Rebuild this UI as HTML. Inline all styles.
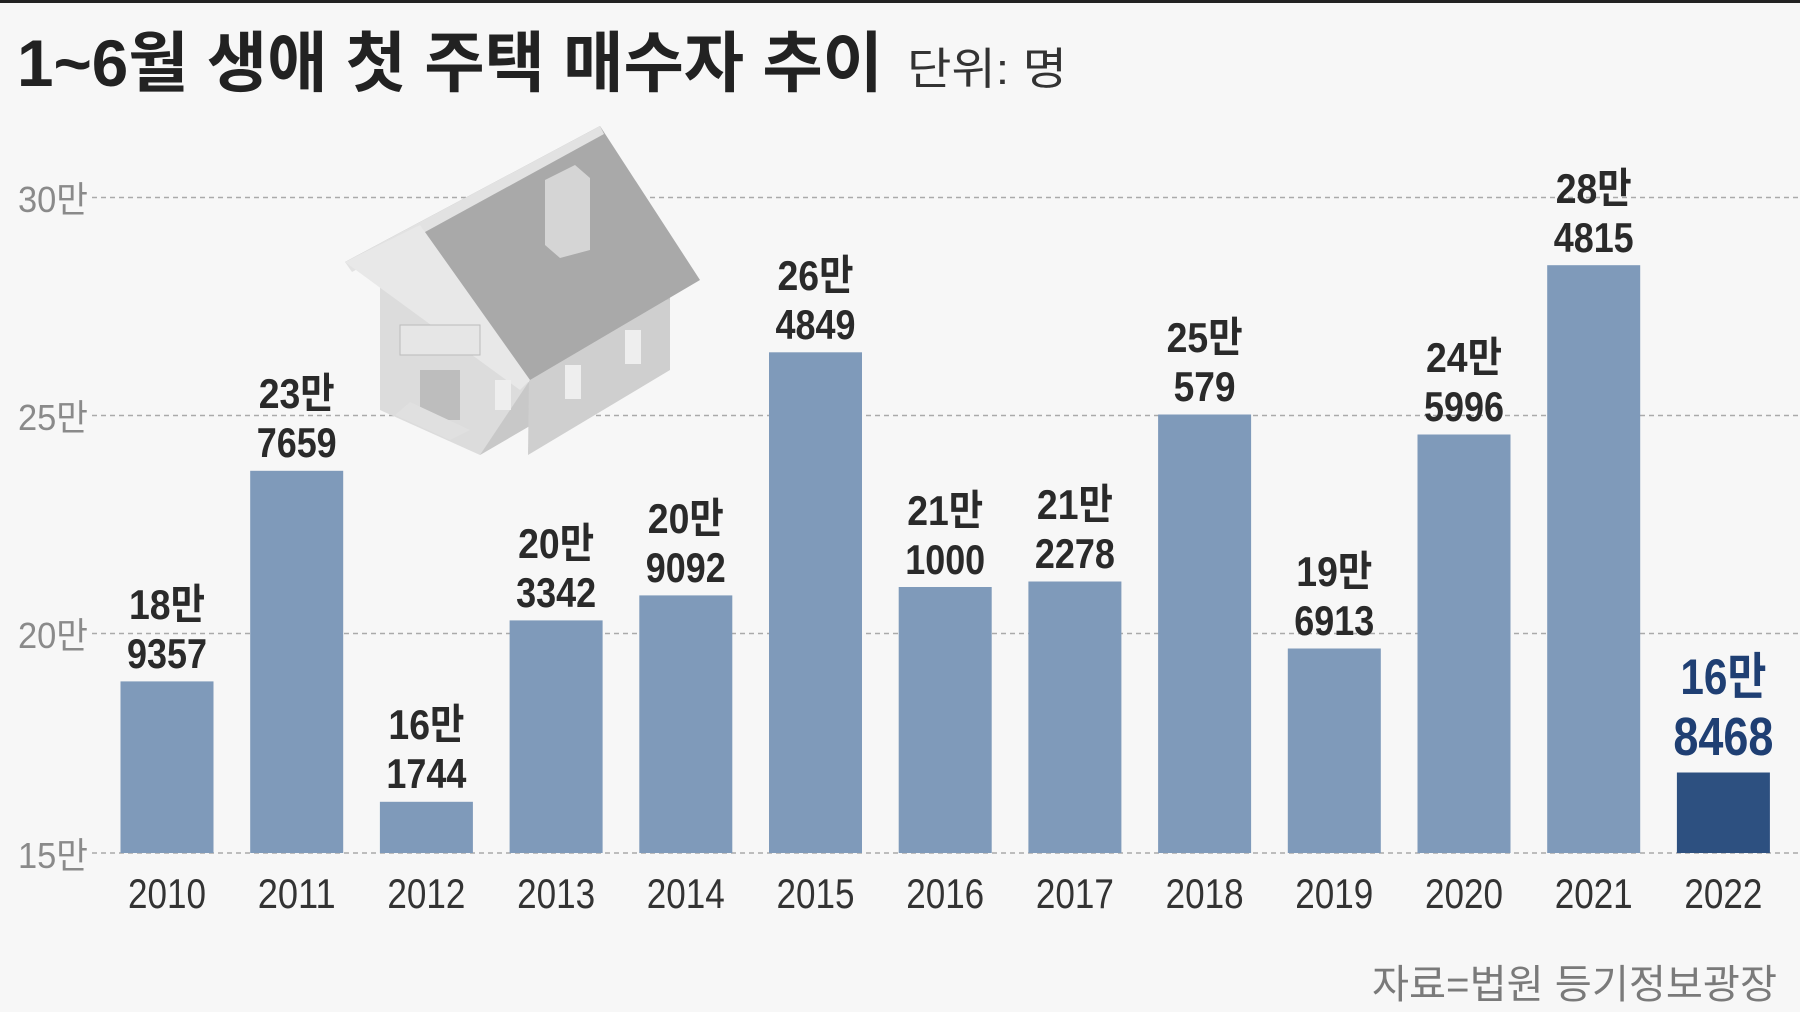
<!DOCTYPE html>
<html><head><meta charset="utf-8"><style>
html,body{margin:0;padding:0;background:#f7f7f7}
svg{display:block}
text{font-family:"Liberation Sans Narrow","Liberation Sans","Noto Sans CJK KR",sans-serif}
.lab{font-weight:bold;font-size:42px;fill:#2a2a2a;text-anchor:middle}
.yr{font-size:42px;fill:#333;text-anchor:middle}
.yl{font-size:36px;fill:#8a8a8a}
</style></head><body>
<svg width="1800" height="1012" viewBox="0 0 1800 1012" xmlns="http://www.w3.org/2000/svg">
<rect width="1800" height="1012" fill="#f7f7f7"/>
<rect width="1800" height="3" fill="#222"/>
<text x="17" y="86" textLength="866" lengthAdjust="spacingAndGlyphs" style="font-family:'Liberation Sans','Noto Sans CJK KR',sans-serif;font-weight:bold;font-size:66px;fill:#222">1~6월 생애 첫 주택 매수자 추이</text>
<text x="907" y="84" textLength="160" lengthAdjust="spacingAndGlyphs" style="font-family:'Liberation Sans','Noto Sans CJK KR',sans-serif;font-size:44px;fill:#333">단위: 명</text>
<g stroke="#aaa" stroke-width="1.5" stroke-dasharray="5,4">
<line x1="92" y1="197.5" x2="1800" y2="197.5"/>
<line x1="92" y1="415.5" x2="1800" y2="415.5"/>
<line x1="92" y1="633.5" x2="1800" y2="633.5"/>
<line x1="92" y1="853" x2="1800" y2="853"/>
</g>
<text class="yl" x="18" y="212" textLength="70" lengthAdjust="spacingAndGlyphs">30만</text>
<text class="yl" x="18" y="430" textLength="70" lengthAdjust="spacingAndGlyphs">25만</text>
<text class="yl" x="18" y="648" textLength="70" lengthAdjust="spacingAndGlyphs">20만</text>
<text class="yl" x="18" y="868" textLength="70" lengthAdjust="spacingAndGlyphs">15만</text>
<!-- house -->
<g>
<polygon points="380,262 480,225 540,420 480,455 380,410" fill="#dcdcdc"/>
<polygon points="480,455 540,420 670,340 670,280 560,310 530,380" fill="#c8c8c8"/>
<polygon points="530,300 670,300 670,370 528,455" fill="#cfcfcf"/>
<polygon points="345,262 600,126 700,280 530,380" fill="#a9a9a9"/>
<polygon points="345,262 600,126 604,134 352,272" fill="#e2e2e2"/>
<polygon points="345,262 420,225 530,380 520,390" fill="#e8e8e8"/>
<polygon points="545,180 575,165 590,178 590,250 560,258 545,245" fill="#d5d5d5"/>
<rect x="400" y="325" width="80" height="30" fill="#e6e6e6" stroke="#bbb"/>
<rect x="420" y="370" width="40" height="50" fill="#bdbdbd"/>
<polygon points="395,415 450,440 470,430 410,402" fill="#e0e0e0"/>
<rect x="565" y="365" width="16" height="34" fill="#eee"/>
<rect x="625" y="330" width="16" height="34" fill="#eee"/>
<rect x="495" y="380" width="16" height="30" fill="#eee"/>
</g>
<g fill="#7f9aba">
<rect x="120.5" y="681.4" width="93" height="171.6"/>
<rect x="250.2" y="470.8" width="93" height="382.2"/>
<rect x="379.9" y="801.8" width="93" height="51.2"/>
<rect x="509.6" y="620.4" width="93" height="232.6"/>
<rect x="639.3" y="595.4" width="93" height="257.6"/>
<rect x="769" y="352.3" width="93" height="500.7"/>
<rect x="898.7" y="587" width="93" height="266"/>
<rect x="1028.4" y="581.5" width="93" height="271.5"/>
<rect x="1158.1" y="414.5" width="93" height="438.5"/>
<rect x="1287.8" y="648.5" width="93" height="204.5"/>
<rect x="1417.5" y="434.5" width="93" height="418.5"/>
<rect x="1547.2" y="265.2" width="93" height="587.8"/>
<rect x="1676.9" y="772.5" width="93" height="80.5" fill="#2d5080"/>
</g>
<g>
<text class="lab" x="167" y="619" textLength="76" lengthAdjust="spacingAndGlyphs">18만</text><text class="lab" x="167" y="668" textLength="80" lengthAdjust="spacingAndGlyphs">9357</text>
<text class="lab" x="296.7" y="408" textLength="76" lengthAdjust="spacingAndGlyphs">23만</text><text class="lab" x="296.7" y="457" textLength="80" lengthAdjust="spacingAndGlyphs">7659</text>
<text class="lab" x="426.4" y="739" textLength="76" lengthAdjust="spacingAndGlyphs">16만</text><text class="lab" x="426.4" y="788" textLength="80" lengthAdjust="spacingAndGlyphs">1744</text>
<text class="lab" x="556.1" y="558" textLength="76" lengthAdjust="spacingAndGlyphs">20만</text><text class="lab" x="556.1" y="607" textLength="80" lengthAdjust="spacingAndGlyphs">3342</text>
<text class="lab" x="685.8" y="533" textLength="76" lengthAdjust="spacingAndGlyphs">20만</text><text class="lab" x="685.8" y="582" textLength="80" lengthAdjust="spacingAndGlyphs">9092</text>
<text class="lab" x="815.5" y="290" textLength="76" lengthAdjust="spacingAndGlyphs">26만</text><text class="lab" x="815.5" y="339" textLength="80" lengthAdjust="spacingAndGlyphs">4849</text>
<text class="lab" x="945.2" y="525" textLength="76" lengthAdjust="spacingAndGlyphs">21만</text><text class="lab" x="945.2" y="574" textLength="80" lengthAdjust="spacingAndGlyphs">1000</text>
<text class="lab" x="1074.9" y="519" textLength="76" lengthAdjust="spacingAndGlyphs">21만</text><text class="lab" x="1074.9" y="568" textLength="80" lengthAdjust="spacingAndGlyphs">2278</text>
<text class="lab" x="1204.6" y="352" textLength="76" lengthAdjust="spacingAndGlyphs">25만</text><text class="lab" x="1204.6" y="401" textLength="62" lengthAdjust="spacingAndGlyphs">579</text>
<text class="lab" x="1334.3" y="586" textLength="76" lengthAdjust="spacingAndGlyphs">19만</text><text class="lab" x="1334.3" y="635" textLength="80" lengthAdjust="spacingAndGlyphs">6913</text>
<text class="lab" x="1464" y="372" textLength="76" lengthAdjust="spacingAndGlyphs">24만</text><text class="lab" x="1464" y="421" textLength="80" lengthAdjust="spacingAndGlyphs">5996</text>
<text class="lab" x="1593.7" y="203" textLength="76" lengthAdjust="spacingAndGlyphs">28만</text><text class="lab" x="1593.7" y="252" textLength="80" lengthAdjust="spacingAndGlyphs">4815</text>
<text class="lab" x="1723.4" y="694" textLength="86" lengthAdjust="spacingAndGlyphs" style="fill:#1f3f73;font-size:50px">16만</text><text class="lab" x="1723.4" y="755" textLength="100" lengthAdjust="spacingAndGlyphs" style="fill:#1f3f73;font-size:54px">8468</text>
</g>
<g>
<text class="yr" x="167" y="908" textLength="78" lengthAdjust="spacingAndGlyphs">2010</text>
<text class="yr" x="296.7" y="908" textLength="78" lengthAdjust="spacingAndGlyphs">2011</text>
<text class="yr" x="426.4" y="908" textLength="78" lengthAdjust="spacingAndGlyphs">2012</text>
<text class="yr" x="556.1" y="908" textLength="78" lengthAdjust="spacingAndGlyphs">2013</text>
<text class="yr" x="685.8" y="908" textLength="78" lengthAdjust="spacingAndGlyphs">2014</text>
<text class="yr" x="815.5" y="908" textLength="78" lengthAdjust="spacingAndGlyphs">2015</text>
<text class="yr" x="945.2" y="908" textLength="78" lengthAdjust="spacingAndGlyphs">2016</text>
<text class="yr" x="1074.9" y="908" textLength="78" lengthAdjust="spacingAndGlyphs">2017</text>
<text class="yr" x="1204.6" y="908" textLength="78" lengthAdjust="spacingAndGlyphs">2018</text>
<text class="yr" x="1334.3" y="908" textLength="78" lengthAdjust="spacingAndGlyphs">2019</text>
<text class="yr" x="1464" y="908" textLength="78" lengthAdjust="spacingAndGlyphs">2020</text>
<text class="yr" x="1593.7" y="908" textLength="78" lengthAdjust="spacingAndGlyphs">2021</text>
<text class="yr" x="1723.4" y="908" textLength="78" lengthAdjust="spacingAndGlyphs">2022</text>
</g>
<text x="1372" y="998" textLength="405" lengthAdjust="spacingAndGlyphs" style="font-family:'Liberation Sans','Noto Sans CJK KR',sans-serif;font-size:40px;fill:#7a7a7a">자료=법원 등기정보광장</text>
</svg>
</body></html>
